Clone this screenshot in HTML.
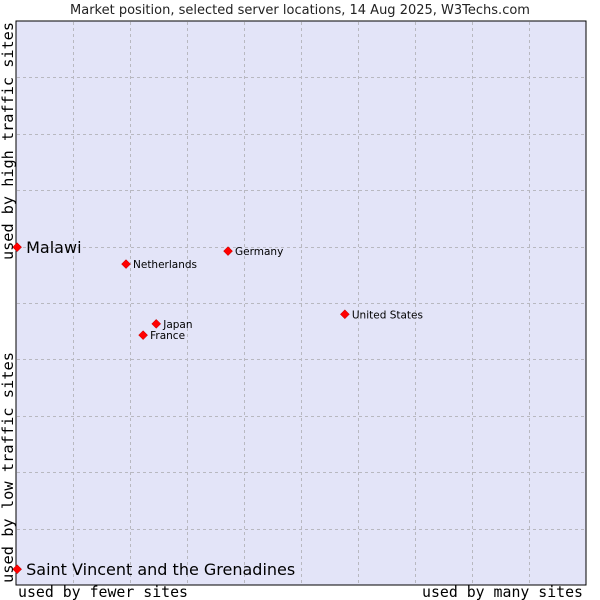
<!DOCTYPE html>
<html><head><meta charset="utf-8"><style>
body{margin:0;background:#fff;width:600px;height:600px;overflow:hidden}
svg{display:block}
</style></head><body>
<svg id="chart" width="600" height="600" xmlns="http://www.w3.org/2000/svg">
<text x="300" y="14" text-anchor="middle" font-family="DejaVu Sans, sans-serif" font-size="13" fill="#222">Market position, selected server locations, 14 Aug 2025, W3Techs.com</text>
<rect x="16" y="21" width="570" height="564" fill="#e3e4f8" stroke="#000" stroke-width="1"/>
<g id="grid"></g>
<g id="points"></g>
<text x="18" y="597" font-family="DejaVu Sans Mono, monospace" font-size="15" textLength="170" lengthAdjust="spacingAndGlyphs" fill="#000">used by fewer sites</text>
<text x="422" y="597" font-family="DejaVu Sans Mono, monospace" font-size="15" textLength="161" lengthAdjust="spacingAndGlyphs" fill="#000">used by many sites</text>
<text transform="translate(13,583) rotate(-90)" font-family="DejaVu Sans Mono, monospace" font-size="15" textLength="231" lengthAdjust="spacingAndGlyphs" fill="#000">used by low traffic sites</text>
<text transform="translate(13,260) rotate(-90)" font-family="DejaVu Sans Mono, monospace" font-size="15" textLength="238" lengthAdjust="spacingAndGlyphs" fill="#000">used by high traffic sites</text>
</svg>
<script>
const names = ["Malawi","Saint Vincent and the Grenadines","Netherlands","Germany","United States","Japan","France"];
const xVals = [0.2,0.2,19.3,37.2,57.7,24.6,22.3];
const yVals = [59.9,2.8,56.9,59.2,48.0,46.3,44.3];
const bigLabel = [true,true,false,false,false,false,false];
const NS="http://www.w3.org/2000/svg";
const L=16,T=21,W=570,H=564;
const sx=v=>L+v/100*W, sy=v=>T+H-v/100*H;
const grid=document.getElementById('grid');
for(let i=1;i<10;i++){
  const lx=document.createElementNS(NS,'line');
  
  
  const x=Math.round(sx(i*10))+0.5;
  lx.setAttribute('x1',x);lx.setAttribute('x2',x);lx.setAttribute('y1',T+1);lx.setAttribute('y2',T+H-1);
  lx.setAttribute('stroke','#b8b8c0');lx.setAttribute('stroke-dasharray','3,3');
  grid.appendChild(lx);
  const ly=document.createElementNS(NS,'line');
  
  
  const y=Math.round(sy(i*10))+0.5;
  ly.setAttribute('y1',y);ly.setAttribute('y2',y);ly.setAttribute('x1',L+1);ly.setAttribute('x2',L+W-1);
  ly.setAttribute('stroke','#b8b8c0');ly.setAttribute('stroke-dasharray','3,3');
  grid.appendChild(ly);
}
const pts=document.getElementById('points');
names.forEach((n,i)=>{
  const x=sx(xVals[i]), y=sy(yVals[i]);
  const p=document.createElementNS(NS,'polygon');
  
  
  p.setAttribute('points',`${x},${y-4.5} ${x+4.5},${y} ${x},${y+4.5} ${x-4.5},${y}`);
  p.setAttribute('fill','#f00');p.setAttribute('stroke','#b00');p.setAttribute('stroke-width','0.5');
  pts.appendChild(p);
  const t=document.createElementNS(NS,'text');
  
  
  t.setAttribute('x',x+(bigLabel[i]?9:7));
  t.setAttribute('y',y+(bigLabel[i]?6:4));
  t.setAttribute('font-family','DejaVu Sans, sans-serif');
  t.setAttribute('font-size',bigLabel[i]?'16':'10.5');
  t.setAttribute('fill','#000');
  t.textContent=n;
  pts.appendChild(t);
});
</script>
</body></html>
